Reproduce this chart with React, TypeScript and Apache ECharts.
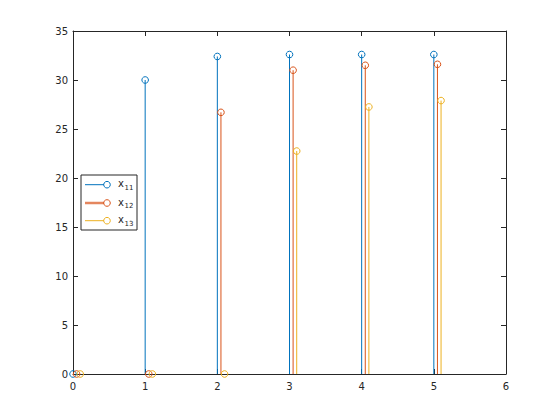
import React, { useEffect, useRef } from "react";
import * as echarts from "echarts";

const xPositions = [0, 1, 2, 3, 4, 5];
const offsets = [0, 0.05, 0.1];
const legendBase = "x";
const legendSubs = ["11", "12", "13"];
const x11 = [0, 30.0, 32.4, 32.6, 32.6, 32.6];
const x12 = [0, 0, 26.7, 31.0, 31.5, 31.6];
const x13 = [0, 0, 0, 22.75, 27.25, 27.9];
const seriesValues = [x11, x12, x13];
const colors = ["#0072BD", "#D95319", "#EDB120"];
const xMin = 0, xMax = 6, xStep = 1;
const yMin = 0, yMax = 35, yStep = 5;

const FONT = "DejaVu Sans";
const AX = "#262626";

export default function App() {
  const ref = useRef<HTMLDivElement>(null);
  useEffect(() => {
    if (!ref.current) return;
    const chart = echarts.init(ref.current, undefined, { renderer: "svg" });

    const baseAxis = {
      axisLine: { show: true, onZero: false, lineStyle: { color: AX, width: 1 } },
      axisTick: { show: true, inside: true, length: 5, lineStyle: { color: AX, width: 1 } },
      splitLine: { show: false },
    };

    const series: any[] = seriesValues.map((vals, si) => ({
      type: "custom",
      name: legendBase + legendSubs[si],
      xAxisIndex: 0,
      yAxisIndex: 0,
      clip: false,
      z: 2 + si,
      data: vals.map((v, i) => [xPositions[i] + offsets[si], v]),
      renderItem: (params: any, api: any) => {
        const x = api.value(0);
        const y = api.value(1);
        const p0 = api.coord([x, 0]);
        const p1 = api.coord([x, y]);
        return {
          type: "group",
          children: [
            {
              type: "line",
              shape: { x1: p0[0], y1: p0[1], x2: p1[0], y2: p1[1] },
              style: { stroke: colors[si], lineWidth: 1 },
            },
            {
              type: "circle",
              shape: { cx: p1[0], cy: p1[1], r: 3.3 },
              style: { fill: "transparent", stroke: colors[si], lineWidth: 1 },
            },
          ],
        };
      },
    }));

    const legendX = 81, legendY = 175, legendW = 56, legendH = 55;
    const rowY = [184.7, 203, 220.7];
    const legendChildren: any[] = [
      {
        type: "rect",
        shape: { x: legendX, y: legendY, width: legendW, height: legendH },
        style: { fill: "#ffffff", stroke: AX, lineWidth: 1 },
      },
    ];
    legendSubs.forEach((sub, i) => {
      const cy = rowY[i];
      legendChildren.push(
        {
          type: "line",
          shape: { x1: 85, y1: cy, x2: 104, y2: cy },
          style: { stroke: colors[i], lineWidth: i === 1 ? 2.5 : 1, opacity: i === 1 ? 0.7 : 1 },
        },
        {
          type: "circle",
          shape: { cx: 107, cy, r: 3.3 },
          style: { fill: "transparent", stroke: colors[i], lineWidth: 1 },
        },
        {
          type: "text",
          x: 118,
          y: cy - 1,
          style: {
            text: legendBase,
            fontSize: 10,
            fontFamily: FONT,
            fill: AX,
            verticalAlign: "middle",
            align: "left",
          },
        },
        {
          type: "text",
          x: 124.5,
          y: cy + 3,
          style: {
            text: sub,
            fontSize: 7,
            fontFamily: FONT,
            fill: AX,
            verticalAlign: "middle",
            align: "left",
          },
        }
      );
    });

    chart.setOption({
      animation: false,
      backgroundColor: "#ffffff",
      grid: { left: 73, top: 31, right: 54, bottom: 46, containLabel: false },
      xAxis: [
        {
          type: "value",
          position: "bottom",
          min: xMin,
          max: xMax,
          interval: xStep,
          ...baseAxis,
          axisLabel: { show: true, color: AX, fontSize: 10, fontFamily: FONT, margin: 7 },
        },
        {
          type: "value",
          position: "top",
          min: xMin,
          max: xMax,
          interval: xStep,
          ...baseAxis,
          axisLabel: { show: false },
        },
      ],
      yAxis: [
        {
          type: "value",
          position: "left",
          min: yMin,
          max: yMax,
          interval: yStep,
          ...baseAxis,
          axisLabel: { show: true, color: AX, fontSize: 10, fontFamily: FONT, margin: 5 },
        },
        {
          type: "value",
          position: "right",
          min: yMin,
          max: yMax,
          interval: yStep,
          ...baseAxis,
          axisLabel: { show: false },
        },
      ],
      series,
      graphic: [{ type: "group", z: 100, children: legendChildren }],
    });

    return () => chart.dispose();
  }, []);

  return (
    <div
      ref={ref}
      style={{ position: "fixed", left: 0, top: 0, width: 560, height: 420, background: "#fff" }}
    />
  );
}
